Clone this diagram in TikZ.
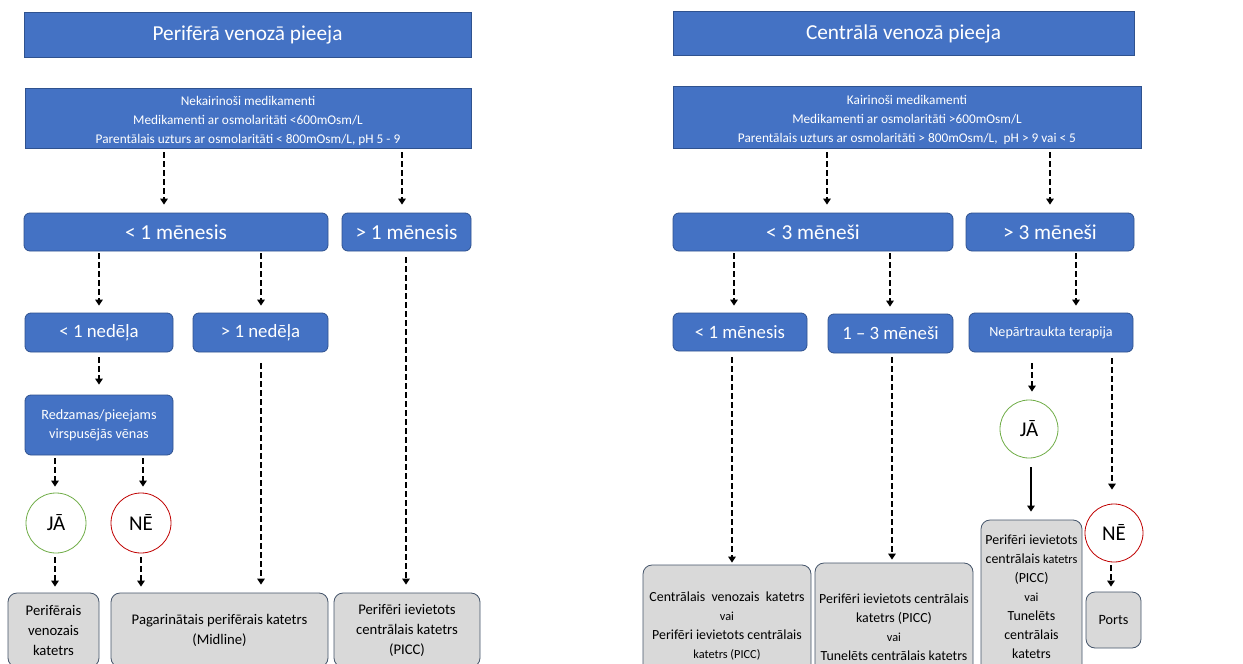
\documentclass[tikz,border=0pt]{standalone}
\usepackage{fontspec}
\setmainfont{Carlito}
\usetikzlibrary{arrows.meta}
\definecolor{bl}{HTML}{4472C4}
\definecolor{bld}{HTML}{2F528F}
\definecolor{gf}{HTML}{D9D9D9}
\definecolor{gd}{HTML}{44546A}
\definecolor{gr}{HTML}{70AD47}
\definecolor{rd}{HTML}{C00000}
\newcommand\fs[2]{\fontsize{#1}{#2}\selectfont}
\newcommand\conn[6][arr]{\draw[#1, shorten <=#5pt, shorten >=#6pt] (#2.south -| #4) -- (#3.north -| #4);}
\begin{document}
\begin{tikzpicture}[x=1pt,y=-1pt,
 bbox/.style={draw=bld, line width=0.8pt, fill=bl, text=white, inner sep=0pt, align=center},
 rbox/.style={bbox, rounded corners=6pt},
 gbox/.style={draw=gd, line width=0.8pt, fill=gf, rounded corners=9pt, inner sep=0pt, align=center, text=black},
 yes/.style={circle, draw=gr, fill=white, line width=0.8pt, minimum size=60pt, inner sep=0pt, font=\fs{21}{25}},
 no/.style={yes, draw=rd},
 arr/.style={line width=2.2pt, dash pattern=on 6pt off 3pt, -{Triangle[length=6pt,width=7.5pt]}},
 sarr/.style={line width=2.2pt, -{Triangle[length=6pt,width=7.5pt]}},
]
\useasboundingbox[fill=white] (0,0) rectangle (1243,664);
% titles
\node[bbox, minimum width=447pt, minimum height=45pt, font=\fs{21.3}{25}] (t1) at (247.5,34.5) {Perifērā venozā pieeja};
\node[bbox, minimum width=461pt, minimum height=44pt, font=\fs{21.3}{25}] (t2) at (903.5,33.5) {Centrālā venozā pieeja};
% info boxes
\node[bbox, minimum width=446pt, minimum height=60pt, font=\fs{13.3}{19}] (i1) at (248,118) {\rule{0pt}{16pt}Nekairinoši medikamenti\\Medikamenti ar osmolaritāti <600mOsm/L\\Parentālais uzturs ar osmolaritāti < 800mOsm/L, pH 5 - 9};
\node[bbox, minimum width=468pt, minimum height=62pt, font=\fs{13.3}{19}] (i2) at (907,117) {\rule{0pt}{16pt}Kairinoši medikamenti\\Medikamenti ar osmolaritāti >600mOsm/L\\Parentālais uzturs ar osmolaritāti > 800mOsm/L,\ \ pH > 9 vai < 5};
% row 1
\node[rbox, minimum width=304pt, minimum height=38pt, font=\fs{21.3}{25}] (a1) at (176,232) {< 1 mēnesis};
\node[rbox, minimum width=129pt, minimum height=38pt, font=\fs{21.3}{25}] (a2) at (406.5,232) {> 1 mēnesis};
\node[rbox, minimum width=280pt, minimum height=38pt, font=\fs{21.3}{25}] (b1) at (813,232) {< 3 mēneši};
\node[rbox, minimum width=168pt, minimum height=38pt, font=\fs{21.3}{25}] (b2) at (1050,232) {> 3 mēneši};
% row 2
\node[rbox, minimum width=148pt, minimum height=39pt, font=\fs{18.8}{22}] (c1) at (99,332.5) {< 1 nedēļa};
\node[rbox, minimum width=135pt, minimum height=39pt, font=\fs{18.8}{22}] (c2) at (260.5,332.5) {> 1 nedēļa};
\node[rbox, minimum width=134pt, minimum height=38pt, font=\fs{18.8}{22}] (d1) at (740,332) {< 1 mēnesis};
\node[rbox, minimum width=125pt, minimum height=39pt, font=\fs{18.8}{22}] (d2) at (890.5,333.5) {1 – 3 mēneši};
\node[rbox, minimum width=164pt, minimum height=39pt, font=\fs{14.1}{17}] (d3) at (1051,332.5) {Nepārtraukta terapija};
% question
\node[rbox, minimum width=148pt, minimum height=60pt, font=\fs{14.2}{19}] (r) at (99,425) {Redzamas/pieejams\\virspusējās vēnas};
% circles
\node[yes] (jl) at (56,523) {JĀ};
\node[no] (nl) at (141,523) {NĒ};
\node[yes, minimum size=58pt] (jr) at (1029,429) {JĀ};
\node[no, minimum size=58pt] (nr) at (1114,533) {NĒ};
% bottom left
\node[gbox, minimum width=91pt, minimum height=74pt, font=\fs{14.7}{20}] (p1) at (53.5,630) {Perifērais\\venozais\\katetrs};
\node[gbox, minimum width=217pt, minimum height=74pt, font=\fs{14.7}{20}] (p2) at (219.5,630) {Pagarinātais perifērais katetrs\\(Midline)};
\node[gbox, minimum width=146pt, minimum height=74pt, font=\fs{14.7}{20}] (p3) at (407,630) {Perifēri ievietots\\centrālais katetrs\\(PICC)};
% bottom right
\node[gbox, minimum width=168pt, minimum height=122pt, font=\fs{13.9}{19}] (q1) at (727,626) {Centrālais\ \ venozais\ \ katetrs\\{\fs{12.3}{16}vai}\\Perifēri ievietots centrālais\\{\fs{12.3}{19}katetrs (PICC)}};
\node[gbox, minimum width=158pt, minimum height=128pt, font=\fs{13.9}{19}] (q2) at (894,627) {Perifēri ievietots centrālais\\katetrs (PICC)\\{\fs{12.3}{17}vai}\\Tunelēts centrālais katetrs};
\node[gbox, minimum width=101pt, minimum height=153pt, font=\fs{13.9}{19}] (q3) at (1031.5,596.5) {Perifēri ievietots\\centrālais {\fs{12.3}{19}katetrs}\\(PICC)\\{\fs{12.3}{18}vai}\\Tunelēts\\centrālais\\katetrs};
\node[gbox, minimum width=55pt, minimum height=56pt, font=\fs{14.2}{19}] (q4) at (1113.5,620) {Ports};
% connector columns
\coordinate (ka) at (164,0); \coordinate (kb) at (402,0);
\coordinate (kc) at (827,0); \coordinate (kd) at (1050,0);
\coordinate (ke) at (99,0);  \coordinate (kf) at (261,0);
\coordinate (kg) at (406,0); \coordinate (kh) at (55,0);
\coordinate (ki) at (143,0); \coordinate (kj) at (141,0);
\coordinate (kk) at (734,0); \coordinate (kl) at (890,0);
\coordinate (km) at (1076,0); \coordinate (kn) at (732,0);
\coordinate (ko) at (892,0); \coordinate (kp) at (1032,0);
\coordinate (kq) at (1031,0); \coordinate (kr) at (1112,0);
\coordinate (ks) at (1111,0);
% connectors
\conn{i1}{a1}{ka}{4}{8}
\conn{i1}{a2}{kb}{4}{8}
\conn{i2}{b1}{kc}{4}{8}
\conn{i2}{b2}{kd}{4}{8}
\conn{a1}{c1}{ke}{2}{7}
\conn{a1}{c2}{kf}{2}{7}
\conn{c1}{r}{ke}{5}{10}
\conn{c2}{p2}{kf}{11}{8}
\conn{a2}{p3}{kg}{6}{8}
\conn{r}{jl}{kh}{3}{6}
\conn{r}{nl}{ki}{3}{6}
\conn{jl}{p1}{kh}{4}{6}
\conn{nl}{p2}{kj}{4}{6}
\conn{b1}{d1}{kk}{2}{7}
\conn{b1}{d2}{kl}{2}{7}
\conn{b2}{d3}{km}{2}{7}
\conn{d1}{q1}{kn}{6}{2}
\conn{d2}{q2}{ko}{4}{3}
\conn{d3}{jr}{kp}{11}{8}
\conn[sarr]{jr}{q3}{kq}{9}{8}
\conn{d3}{nr}{kr}{6}{14}
\conn{nr}{q4}{ks}{3}{5}
\end{tikzpicture}
\end{document}
